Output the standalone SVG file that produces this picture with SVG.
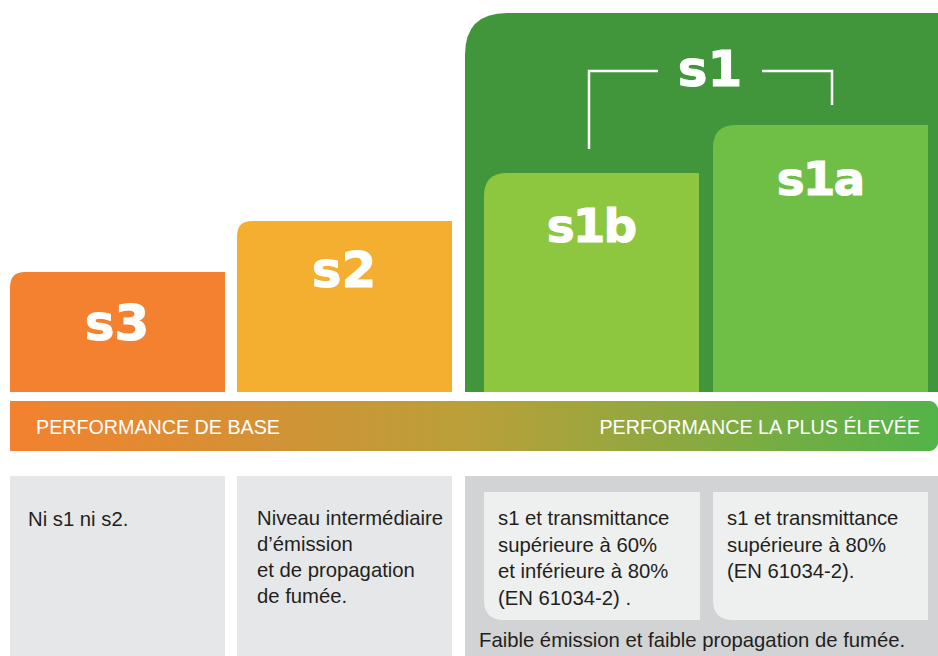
<svg xmlns="http://www.w3.org/2000/svg" width="938" height="656" viewBox="0 0 938 656">
<defs>
<linearGradient id="bar" x1="10" y1="0" x2="938" y2="0" gradientUnits="userSpaceOnUse">
<stop offset="0" stop-color="#F3812F"/>
<stop offset="0.5" stop-color="#B9A03A"/>
<stop offset="1" stop-color="#52B448"/>
</linearGradient>
<style>
.lvl{font-family:"DejaVu Sans",sans-serif;font-weight:bold;fill:#fff;text-anchor:middle;font-size:50px;stroke:#fff;stroke-width:1}
.sub{font-size:47px;letter-spacing:-2px}
.bar{font-family:"Liberation Sans",Arial,sans-serif;font-size:19.7px;fill:#fff}
.desc{font-family:"Liberation Sans",Arial,sans-serif;font-size:20.3px;fill:#231F20}
.br{fill:none;stroke:#fff;stroke-width:2.5}
</style>
</defs>
<g id="s3">
<path d="M10,392 V287 Q10,272 25,272 H225 V392 Z" fill="#F3812F"/>
<text class="lvl" x="117" y="340">s3</text>
</g>
<g id="s2">
<path d="M237,392 V236 Q237,221 252,221 H452 V392 Z" fill="#F4AF30"/>
<text class="lvl" x="344" y="287">s2</text>
</g>
<g id="s1">
<path d="M465,392 V55 Q465,13 507,13 H938 V392 Z" fill="#41963B"/>
<text class="lvl" x="710" y="86">s1</text>
</g>
<g id="s1b">
<path d="M484,392 V196 Q484,173 507,173 H699 V392 Z" fill="#8DC63F"/>
<text class="lvl sub" x="591" y="242">s1b</text>
</g>
<g id="s1a">
<path d="M713,392 V148 Q713,125 736,125 H928 V392 Z" fill="#6FBE45"/>
<text class="lvl sub" x="820" y="195">s1a</text>
</g>
<g id="connectors">
<polyline class="br" points="589,149 589,71 658,71"/>
<polyline class="br" points="762,71 832,71 832,105"/>
</g>
<g id="scale">
<path d="M10,401 H930 Q935,401 938,408 V444 Q935,451 930,451 H10 Z" fill="url(#bar)"/>
<text class="bar" x="36" y="434">PERFORMANCE DE BASE</text>
<text class="bar" x="920" y="434" text-anchor="end">PERFORMANCE LA PLUS ÉLEVÉE</text>
</g>
<g id="desc-s3">
<path d="M10,476 H225 V656 H10 Z" fill="#E6E7E8"/>
<text class="desc" x="28" y="526">Ni s1 ni s2.</text>
</g>
<g id="desc-s2">
<path d="M237,476 H452 V656 H237 Z" fill="#E6E7E8"/>
<text class="desc" x="257" y="525">Niveau intermédiaire<tspan x="257" dy="26">d’émission</tspan><tspan x="257" dy="26">et de propagation</tspan><tspan x="257" dy="26">de fumée.</tspan></text>
</g>
<g id="desc-s1">
<path d="M465,476 H938 V656 H465 Z" fill="#D1D3D4"/>
<text class="desc" x="479" y="647">Faible émission et faible propagation de fumée.</text>
</g>
<g id="desc-s1b">
<path d="M484,492 H700 V620 H504 Q484,620 484,600 Z" fill="#EEEFEF"/>
<text class="desc" x="498" y="525">s1 et transmittance<tspan x="498" dy="26.5">supérieure à 60%</tspan><tspan x="498" dy="26.5">et inférieure à 80%</tspan><tspan x="498" dy="26.5">(EN 61034-2) .</tspan></text>
</g>
<g id="desc-s1a">
<path d="M713,492 H928 V620 H733 Q713,620 713,600 Z" fill="#EEEFEF"/>
<text class="desc" x="727" y="525">s1 et transmittance<tspan x="727" dy="26.5">supérieure à 80%</tspan><tspan x="727" dy="26.5">(EN 61034-2).</tspan></text>
</g>
</svg>
